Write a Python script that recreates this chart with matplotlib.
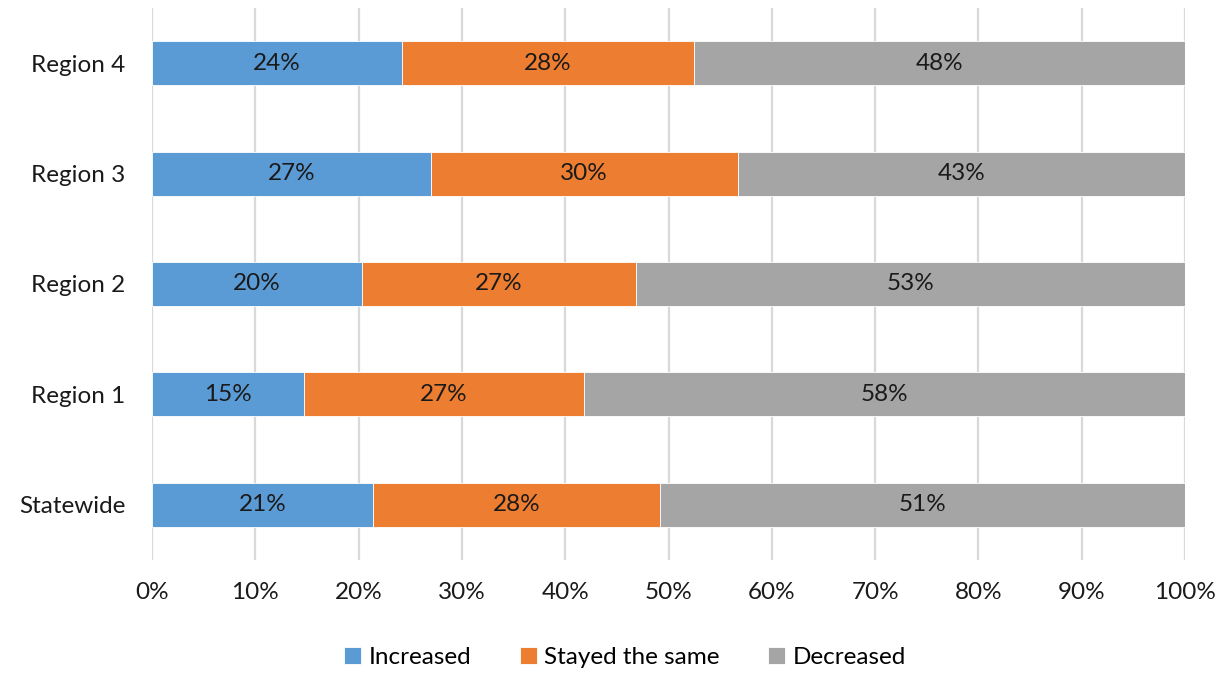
import numpy as np
import matplotlib.pyplot as plt

plt.rcParams['font.family'] = ['Lato', 'DejaVu Sans']

regions = ['Statewide', 'Region 1', 'Region 2', 'Region 3', 'Region 4']
increased = [21.4, 14.7, 20.3, 27.0, 24.2]
same = [27.8, 27.1, 26.6, 29.7, 28.3]
decreased = [50.8, 58.2, 53.1, 43.3, 47.5]
series_names = ['Increased', 'Stayed the same', 'Decreased']
colors = ['#5B9BD5', '#ED7D31', '#A5A5A5']

fig = plt.figure(figsize=(12.27, 6.77), dpi=100)
ax = fig.add_axes([152/1227, 1 - 560/677, (1185-152)/1227, 552/677])

fs = 17.5
y = np.arange(len(regions))
left = np.zeros(len(regions))
for vals, name, c in zip([increased, same, decreased], series_names, colors):
    vals = np.array(vals)
    ax.barh(y, vals, left=left, height=0.4, color=c, label=name,
            edgecolor='white', linewidth=0.6, zorder=3)
    for yi, l, v in zip(y, left, vals):
        ax.text(l + v / 2, yi, f'{round(v):.0f}%', ha='center', va='center',
                fontsize=fs, color='#1a1a1a', zorder=4)
    left += vals

ax.set_xlim(0, 100)
ax.set_ylim(-0.5, 4.5)
ax.set_xticks(np.arange(0, 101, 10))
ax.set_xticklabels([f'{t}%' for t in range(0, 101, 10)])
ax.set_yticks(y)
ax.set_yticklabels(regions)
ax.tick_params(axis='both', length=0, labelsize=fs, colors='#1a1a1a')
ax.tick_params(axis='x', pad=16)
ax.tick_params(axis='y', pad=19)
ax.grid(axis='x', color='#d9d9d9', linewidth=1.6, zorder=0)
for s in ax.spines.values():
    s.set_visible(False)

ax.legend(loc='center', bbox_to_anchor=(0.458, -0.176), ncol=3, frameon=False,
          fontsize=fs, handlelength=0.7, handleheight=0.7, handletextpad=0.3,
          columnspacing=2.0)

fig.savefig('out.png', dpi=100)
